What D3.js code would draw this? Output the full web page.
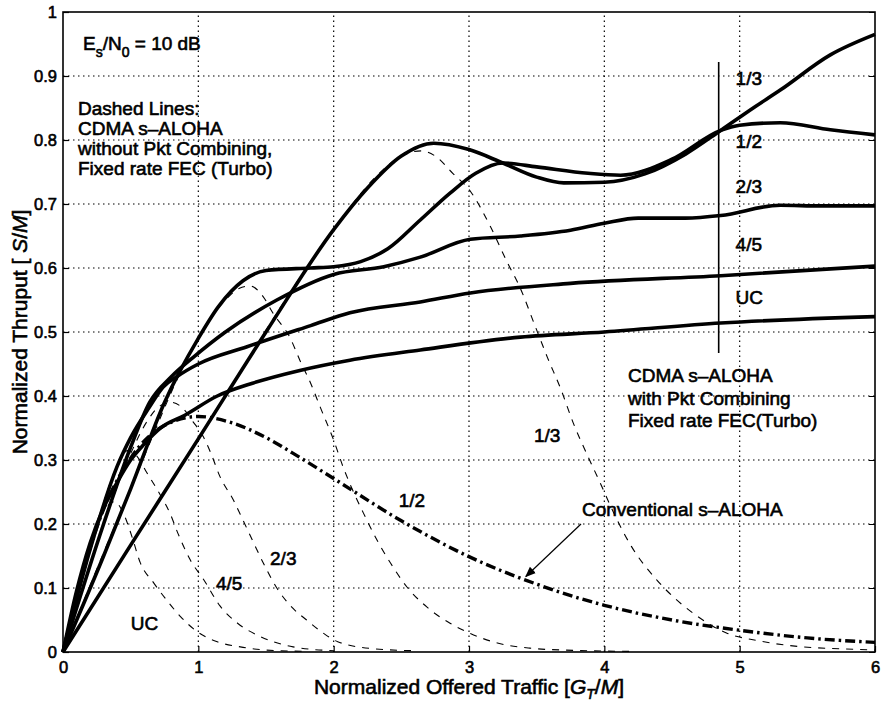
<!DOCTYPE html>
<html>
<head>
<meta charset="utf-8">
<script src="https://cdn.jsdelivr.net/npm/d3@7"></script>
<style>
  body { margin: 0; background: #fff; }
  text { font-family: "Liberation Sans", Arial, sans-serif; fill: #000; }
</style>
</head>
<body>
<svg id="chart"></svg>
<script>
// tick values and labels
const xTicks = [0, 1, 2, 3, 4, 5, 6];
const yTicks = [0, 0.1, 0.2, 0.3, 0.4, 0.5, 0.6, 0.7, 0.8, 0.9, 1];
const yTickLabels = ["0", "0.1", "0.2", "0.3", "0.4", "0.5", "0.6", "0.7", "0.8", "0.9", "1"];

// CDMA s-ALOHA with packet combining (solid), [G/M, S/M]
const with13 = [[0,0],[0.5,0.167],[1.0,0.333],[1.5,0.5],[2.0,0.66],[2.25,0.725],[2.5,0.775],[2.74,0.795],[3.0,0.785],[3.25,0.764],[3.5,0.742],[3.7,0.733],[4.0,0.734],[4.3,0.747],[4.6,0.778],[4.86,0.815],[5.1,0.85],[5.3,0.878],[5.67,0.933],[6,0.965]];
const with12 = [[0,0],[0.3,0.15],[0.5,0.255],[0.75,0.39],[1.0,0.49],[1.15,0.54],[1.33,0.58],[1.5,0.596],[1.83,0.6],[2.0,0.602],[2.2,0.61],[2.4,0.63],[2.64,0.675],[2.86,0.717],[3.05,0.748],[3.25,0.764],[3.5,0.758],[3.88,0.748],[4.12,0.745],[4.5,0.77],[4.86,0.815],[5.0,0.823],[5.3,0.827],[5.67,0.816],[6,0.808]];
const with23 = [[0,0],[0.3,0.2],[0.5,0.32],[0.64,0.39],[0.8,0.43],[0.96,0.46],[1.2,0.5],[1.58,0.55],[2.0,0.59],[2.37,0.602],[2.64,0.617],[3.01,0.645],[3.38,0.65],[3.75,0.659],[4.0,0.67],[4.25,0.678],[4.6,0.678],[4.86,0.682],[5.3,0.698],[5.6,0.697],[6,0.697]];
const with45 = [[0,0],[0.2,0.16],[0.4,0.29],[0.5,0.335],[0.64,0.383],[0.74,0.414],[0.84,0.43],[1.0,0.45],[1.36,0.477],[1.83,0.51],[2.12,0.53],[2.64,0.547],[3.01,0.561],[3.75,0.576],[4.86,0.588],[6,0.603]];
const withUC = [[0,0],[0.1,0.095],[0.2,0.17],[0.3,0.225],[0.4,0.265],[0.5,0.3],[0.6,0.325],[0.72,0.35],[0.9,0.37],[1.14,0.4],[1.4,0.42],[1.75,0.44],[2.12,0.456],[2.64,0.472],[3.38,0.492],[4.0,0.5],[4.86,0.514],[6,0.524]];

// without packet combining (dashed)
const wo13 = [[0,0],[1,0.333],[2,0.66],[2.3,0.74],[2.5,0.775],[2.65,0.783],[2.75,0.775],[2.88,0.748],[3.01,0.72],[3.16,0.664],[3.28,0.61],[3.38,0.568],[3.48,0.514],[3.58,0.46],[3.68,0.41],[3.77,0.358],[3.88,0.305],[3.97,0.264],[4.07,0.217],[4.2,0.165],[4.39,0.112],[4.51,0.086],[4.66,0.06],[4.91,0.029],[5.13,0.018],[5.37,0.01],[5.87,0.004],[6,0.003]];
const wo12 = [[0,0],[0.5,0.255],[1.0,0.49],[1.2,0.55],[1.3,0.568],[1.38,0.572],[1.48,0.555],[1.55,0.53],[1.68,0.49],[1.75,0.456],[1.83,0.42],[1.9,0.383],[2.0,0.331],[2.07,0.289],[2.14,0.253],[2.22,0.217],[2.32,0.175],[2.42,0.139],[2.54,0.102],[2.69,0.07],[2.86,0.045],[3.01,0.029],[3.21,0.014],[3.45,0.006],[3.7,0.003],[4.2,0.001]];
const wo23 = [[0,0],[0.3,0.2],[0.5,0.31],[0.62,0.36],[0.72,0.385],[0.8,0.39],[0.88,0.382],[0.96,0.36],[1.04,0.335],[1.09,0.312],[1.16,0.274],[1.26,0.237],[1.33,0.206],[1.41,0.17],[1.48,0.139],[1.58,0.1],[1.7,0.068],[1.8,0.05],[1.92,0.03],[2.03,0.016],[2.3,0.005],[2.6,0.002]];
const wo45 = [[0,0],[0.2,0.16],[0.4,0.29],[0.48,0.315],[0.55,0.305],[0.62,0.28],[0.72,0.245],[0.79,0.217],[0.85,0.185],[0.94,0.144],[1.04,0.113],[1.16,0.072],[1.29,0.045],[1.46,0.024],[1.7,0.008],[2.0,0.002]];
const woUC = [[0,0],[0.1,0.095],[0.2,0.17],[0.3,0.22],[0.38,0.235],[0.45,0.215],[0.51,0.18],[0.57,0.14],[0.67,0.108],[0.77,0.08],[0.87,0.055],[0.99,0.032],[1.14,0.016],[1.31,0.008],[1.5,0.003],[1.8,0.001]];

// conventional s-ALOHA (dash-dot)
const aloha = [[0,0],[0.25,0.195],[0.5,0.303],[0.75,0.354],[1,0.368],[1.25,0.358],[1.5,0.335],[1.75,0.304],[2,0.271],[2.5,0.205],[3,0.149],[3.5,0.106],[4,0.073],[4.5,0.05],[5,0.034],[5.5,0.022],[6,0.015]];

const width = 883;
const height = 701;
const margin = { top: 12, right: 8, bottom: 49, left: 63 };

const x = d3.scaleLinear().domain([0, 6]).range([margin.left, width - margin.right]);
const y = d3.scaleLinear().domain([0, 1]).range([height - margin.bottom, margin.top]);

const svg = d3.select("#chart").attr("width", width).attr("height", height);

// grid
svg.append("g")
  .selectAll("line")
  .data(xTicks.slice(1, -1))
  .join("line")
  .attr("x1", d => x(d)).attr("x2", d => x(d))
  .attr("y1", y(0)).attr("y2", y(1))
  .attr("stroke", "#000").attr("stroke-width", 1.2).attr("stroke-dasharray", "1.5,3.5");

svg.append("g")
  .selectAll("line")
  .data(yTicks.slice(1, -1))
  .join("line")
  .attr("x1", x(0)).attr("x2", x(6))
  .attr("y1", d => y(d)).attr("y2", d => y(d))
  .attr("stroke", "#000").attr("stroke-width", 1.2).attr("stroke-dasharray", "1.5,3.5");

// axes
const xAxis = svg.append("g")
  .attr("transform", `translate(0,${y(0)})`)
  .call(d3.axisBottom(x).tickValues(xTicks).tickSize(-6).tickPadding(9).tickFormat(d3.format("d")));
const yAxis = svg.append("g")
  .attr("transform", `translate(${x(0)},0)`)
  .call(d3.axisLeft(y).tickValues(yTicks).tickSize(-6).tickPadding(6).tickFormat((d, i) => yTickLabels[i]));
[xAxis, yAxis].forEach(g => {
  g.select(".domain").remove();
  g.selectAll(".tick line").attr("stroke", "#000").attr("stroke-width", 1.2);
  g.selectAll(".tick text").attr("font-size", 16.5).attr("font-family", "Liberation Sans, Arial")
    .attr("stroke", "#000").attr("stroke-width", 0.6);
});
svg.append("g").attr("transform", `translate(${x(6)},0)`)
  .call(d3.axisRight(y).tickValues(yTicks).tickSize(-6).tickFormat(""))
  .call(g => g.select(".domain").remove());

// frame
svg.append("rect")
  .attr("x", x(0)).attr("y", y(1))
  .attr("width", x(6) - x(0)).attr("height", y(0) - y(1))
  .attr("fill", "none").attr("stroke", "#000").attr("stroke-width", 1.6);

const line = d3.line().x(d => x(d[0])).y(d => y(d[1])).curve(d3.curveMonotoneX);

// dashed curves
svg.append("g")
  .selectAll("path")
  .data([wo13, wo12, wo23, wo45, woUC])
  .join("path")
  .attr("d", line)
  .attr("fill", "none").attr("stroke", "#000").attr("stroke-width", 1.1)
  .attr("stroke-dasharray", "7,7");

// solid curves
svg.append("g")
  .selectAll("path")
  .data([with13, with12, with23, with45, withUC])
  .join("path")
  .attr("d", line)
  .attr("fill", "none").attr("stroke", "#000").attr("stroke-width", 3.6)
  .attr("stroke-linejoin", "round");

// conventional s-ALOHA
svg.append("path")
  .datum(aloha)
  .attr("d", line)
  .attr("fill", "none").attr("stroke", "#000").attr("stroke-width", 3.4)
  .attr("stroke-dasharray", "10,4,2.5,4");

// text helper
function label(px, py, str, size) {
  return svg.append("text").attr("x", px).attr("y", py)
    .attr("font-size", size || 19).attr("stroke", "#000").attr("stroke-width", 0.6)
    .text(str);
}

// Es/N0 annotation
const es = svg.append("text").attr("x", 83).attr("y", 50)
  .attr("font-size", 19).attr("stroke", "#000").attr("stroke-width", 0.6);
es.append("tspan").text("E");
es.append("tspan").attr("dy", 7).attr("font-size", 14).text("s");
es.append("tspan").attr("dy", -7).text("/N");
es.append("tspan").attr("dy", 7).attr("font-size", 14).text("0");
es.append("tspan").attr("dy", -7).text(" = 10 dB");

["Dashed Lines:", "CDMA s\u2013ALOHA", "without Pkt Combining,", "Fixed rate FEC (Turbo)"]
  .forEach((t, i) => label(78, 115 + i * 20, t));

["CDMA s\u2013ALOHA", "with Pkt Combining", "Fixed rate FEC(Turbo)"]
  .forEach((t, i) => label(628, 382 + i * 22.5, t));

// right hand rate labels and bar
svg.append("line")
  .attr("x1", x(4.845)).attr("x2", x(4.845))
  .attr("y1", y(0.922)).attr("y2", y(0.467))
  .attr("stroke", "#000").attr("stroke-width", 1.6);

const rightLabels = ["1/3", "1/2", "2/3", "4/5", "UC"];
const rightLabelY = [0.886, 0.787, 0.717, 0.626, 0.543];
rightLabels.forEach((t, i) => label(x(4.97), y(rightLabelY[i]), t));

// dashed curve labels
const dashLabels = ["1/3", "1/2", "2/3", "4/5", "UC"];
const dashLabelX = [3.48, 2.48, 1.53, 1.13, 0.5];
const dashLabelY = [0.328, 0.227, 0.136, 0.097, 0.034];
dashLabels.forEach((t, i) => label(x(dashLabelX[i]), y(dashLabelY[i]), t));

// conventional s-ALOHA label and arrow
label(582, 516, "Conventional s\u2013ALOHA");
svg.append("defs").append("marker")
  .attr("id", "arr").attr("viewBox", "0 0 10 10").attr("refX", 9).attr("refY", 5)
  .attr("markerWidth", 9).attr("markerHeight", 9).attr("orient", "auto")
  .append("path").attr("d", "M0,1 L10,5 L0,9 Z").attr("fill", "#000");
svg.append("line")
  .attr("x1", 581).attr("y1", 524)
  .attr("x2", x(3.42)).attr("y2", y(0.118))
  .attr("stroke", "#000").attr("stroke-width", 1.2)
  .attr("marker-end", "url(#arr)");

// axis titles
const xt = svg.append("text").attr("x", x(3)).attr("y", 694)
  .attr("text-anchor", "middle").attr("font-size", 21).attr("stroke", "#000").attr("stroke-width", 0.6);
xt.append("tspan").text("Normalized Offered Traffic [");
xt.append("tspan").attr("font-style", "italic").text("G");
xt.append("tspan").attr("dy", 5).attr("font-size", 14).attr("font-style", "italic").text("T");
xt.append("tspan").attr("dy", -5).text("/");
xt.append("tspan").attr("font-style", "italic").text("M");
xt.append("tspan").text("]");

const yt = svg.append("text")
  .attr("transform", `translate(27,${y(0.5)}) rotate(-90)`)
  .attr("text-anchor", "middle").attr("font-size", 21).attr("stroke", "#000").attr("stroke-width", 0.6);
yt.append("tspan").text("Normalized Thruput [ ");
yt.append("tspan").attr("font-style", "italic").text("S");
yt.append("tspan").text("/");
yt.append("tspan").attr("font-style", "italic").text("M");
yt.append("tspan").text("]");
</script>
</body>
</html>
